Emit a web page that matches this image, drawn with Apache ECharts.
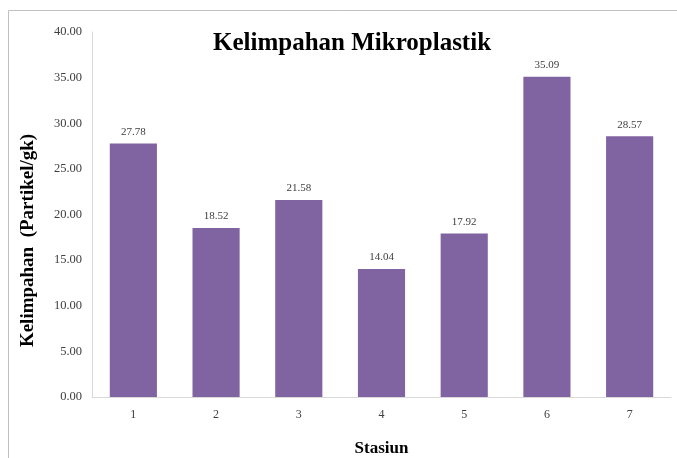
<!DOCTYPE html>
<html>
<head>
<meta charset="utf-8">
<script src="https://cdn.jsdelivr.net/npm/echarts@6/dist/echarts.min.js"></script>
<style>
  html, body { margin: 0; padding: 0; background: #fff; }
  #chart { width: 677px; height: 458px; }
</style>
</head>
<body>
<div id="chart"></div>
<script>
// Stations and microplastic abundance per station
var stations = ['1', '2', '3', '4', '5', '6', '7'];
var abundance = [27.78, 18.52, 21.58, 14.04, 17.92, 35.09, 28.57];

var serif = '"Liberation Serif", "Times New Roman", serif';

var chart = echarts.init(document.getElementById('chart'));
chart.setOption({
  backgroundColor: '#ffffff',
  animation: false,
  title: {
    text: 'Kelimpahan Mikroplastik',
    left: 347,
    textAlign: 'center',
    top: 26,
    textStyle: { fontFamily: serif, fontSize: 25, fontWeight: 'bold', color: '#000' }
  },
  graphic: [
    { type: 'line', shape: { x1: 8.5, y1: 10.5, x2: 677, y2: 10.5 }, style: { stroke: '#c0c0c0', lineWidth: 1 } },
    { type: 'line', shape: { x1: 8.5, y1: 10.5, x2: 8.5, y2: 458 }, style: { stroke: '#c0c0c0', lineWidth: 1 } }
  ],
  grid: { left: 92, right: 6, top: 32, bottom: 61, outerBoundsMode: 'none', containLabel: false },
  xAxis: {
    type: 'category',
    data: stations,
    name: 'Stasiun',
    nameLocation: 'middle',
    nameGap: 43,
    nameTextStyle: { fontFamily: serif, fontSize: 17, fontWeight: 'bold', color: '#000' },
    axisLine: { lineStyle: { color: '#d9d9d9', width: 1 } },
    axisTick: { show: false },
    axisLabel: { fontFamily: serif, fontSize: 12, color: '#404040', margin: 12 }
  },
  yAxis: {
    type: 'value',
    min: 0,
    max: 40,
    interval: 5,
    name: 'Kelimpahan  (Partikel/gk)',
    nameLocation: 'middle',
    nameGap: 54,
    nameTextStyle: {
      fontFamily: serif, fontSize: 19, fontWeight: 'bold', color: '#000',
      padding: [0, 52, 0, 0]
    },
    axisLine: { show: true, lineStyle: { color: '#d9d9d9', width: 1 } },
    axisTick: { show: false },
    splitLine: { show: false },
    axisLabel: {
      fontFamily: serif, fontSize: 12.5, color: '#404040', margin: 10,
      formatter: function (v) { return v.toFixed(2); }
    }
  },
  series: [{
    type: 'bar',
    data: abundance,
    barWidth: '57%',
    itemStyle: { color: '#8064a2' },
    label: {
      show: true,
      position: 'top',
      distance: 6,
      fontFamily: serif,
      fontSize: 11,
      color: '#404040',
      formatter: function (p) { return p.value.toFixed(2); }
    }
  }]
});
</script>
</body>
</html>
